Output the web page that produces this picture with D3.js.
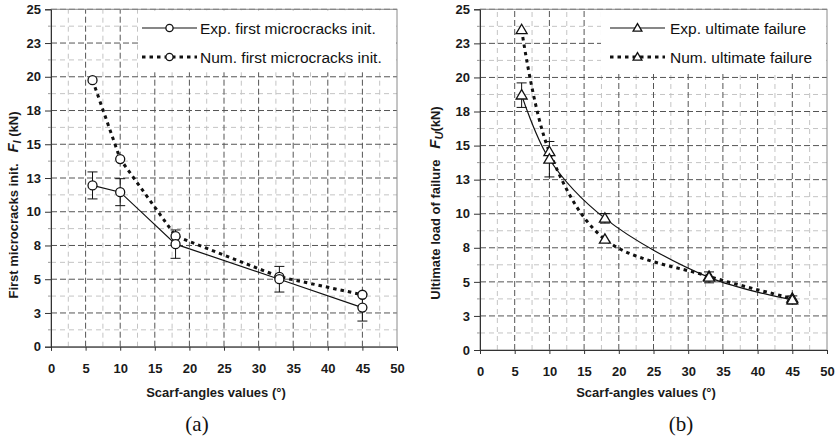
<!DOCTYPE html>
<html><head><meta charset="utf-8">
<script src="https://cdn.jsdelivr.net/npm/d3@7/dist/d3.min.js"></script>
<style>
body{margin:0;background:#fff;}
svg{display:block;font-family:Arial,"Liberation Sans",sans-serif;}
</style></head>
<body><svg id="c" width="836" height="441"></svg>
<script>
// ---- data ----
const angles = [6, 10, 18, 33, 45];
const expFirst = [11.95, 11.45, 7.6, 5.0, 2.9];
const expFirstErr = [1.0, 1.0, 1.05, 0.95, 1.0];
const numFirst = [19.75, 13.9, 8.2, 5.18, 3.85];
const expUlt = [18.7, 14.0, 9.66, 5.33, 3.67];
const expUltErr = [0.9, 1.3, 0.35, 0.4, 0.3];
const numUlt = [23.5, 14.55, 8.12, 5.4, 3.79];
const yTicks = [0, 2.5, 5, 7.5, 10, 12.5, 15, 17.5, 20, 22.5, 25];
const yTickLabels = ["0", "3", "5", "8", "10", "13", "15", "18", "20", "23", "25"];
const xTicks = [0, 5, 10, 15, 20, 25, 30, 35, 40, 45, 50];

const svg = d3.select("#c");

function panel(cfg) {
  const x = d3.scaleLinear().domain([0, 50]).range([cfg.x0, cfg.x1]);
  const y = d3.scaleLinear().domain([0, 25]).range([cfg.y0, cfg.y1]);
  const g = svg.append("g");

  // minor grid
  const minorY = d3.range(1.25, 25, 2.5);
  const minorX = d3.range(2.5, 50, 5);
  g.selectAll(".mgy").data(minorY).join("line")
    .attr("x1", x(0)).attr("x2", x(50)).attr("y1", d => y(d)).attr("y2", d => y(d))
    .attr("stroke", "#c4c4c4").attr("stroke-width", 1).attr("stroke-dasharray", "5,4");
  g.selectAll(".mgx").data(minorX).join("line")
    .attr("y1", y(0)).attr("y2", y(25)).attr("x1", d => x(d)).attr("x2", d => x(d))
    .attr("stroke", "#c4c4c4").attr("stroke-width", 1).attr("stroke-dasharray", "5,4");
  // major grid
  g.selectAll(".Mgy").data(yTicks.slice(1)).join("line")
    .attr("x1", x(0)).attr("x2", x(50)).attr("y1", d => y(d)).attr("y2", d => y(d))
    .attr("stroke", "#555").attr("stroke-width", 1).attr("stroke-dasharray", "6,3");
  g.selectAll(".Mgx").data(xTicks.slice(1, -1)).join("line")
    .attr("y1", y(0)).attr("y2", y(25)).attr("x1", d => x(d)).attr("x2", d => x(d))
    .attr("stroke", "#555").attr("stroke-width", 1).attr("stroke-dasharray", "6,3");
  // frame
  g.append("rect").attr("x", x(0)).attr("y", y(25)).attr("width", x(50) - x(0)).attr("height", y(0) - y(25))
    .attr("fill", "none").attr("stroke", "#8a8a8a").attr("stroke-width", 1);

  // legend background (covers grid)
  g.append("rect").attr("x", cfg.legX).attr("y", y(25) + 1).attr("width", x(50) - cfg.legX - 1).attr("height", 62)
    .attr("fill", "#fff");

  // axes
  const ya = d3.axisLeft(y).tickValues(yTicks).tickFormat((d, i) => yTickLabels[i]).tickSize(6).tickPadding(4);
  const yg = g.append("g").attr("transform", `translate(${x(0)},0)`).call(ya);
  yg.selectAll(".domain").attr("stroke", "#333");
  yg.selectAll(".tick line").attr("stroke", "#333");
  yg.selectAll("text").attr("font-size", 13).attr("font-weight", "bold").attr("fill", "#1a1a1a");
  // minor y ticks
  g.selectAll(".myt").data(minorY).join("line")
    .attr("x1", x(0) - 3).attr("x2", x(0)).attr("y1", d => y(d)).attr("y2", d => y(d))
    .attr("stroke", "#999");

  const xa = d3.axisBottom(x).tickValues(xTicks).tickSize(4).tickPadding(13);
  const xg = g.append("g").attr("transform", `translate(0,${y(0)})`).call(xa);
  xg.selectAll(".domain").attr("stroke", "#333");
  xg.selectAll(".tick line").attr("stroke", "#333");
  xg.selectAll("text").attr("font-size", 13).attr("font-weight", "bold").attr("fill", "#1a1a1a");

  // axis titles
  g.append("text").attr("x", cfg.xTitleX).attr("y", 397).attr("text-anchor", "middle")
    .attr("font-size", 13).attr("font-weight", "bold").attr("fill", "#1a1a1a").text("Scarf-angles values (°)");
  const yt = g.append("text").attr("transform", `translate(${cfg.yTitleX},${cfg.yTitleY}) rotate(-90)`)
    .attr("text-anchor", "middle").attr("font-size", 13).attr("font-weight", "bold").attr("fill", "#1a1a1a")
    .attr("xml:space", "preserve");
  yt.append("tspan").text(cfg.yTitle + "   ");
  yt.append("tspan").attr("font-style", "italic").attr("font-size", 15).text("F");
  yt.append("tspan").attr("font-style", "italic").attr("font-size", 11).attr("dy", 3).text(cfg.sub);
  yt.append("tspan").attr("dy", -3).text(cfg.subGap + "(kN)");

  // panel label
  g.append("text").attr("x", cfg.labX).attr("y", 431).attr("text-anchor", "middle")
    .attr("font-family", "'Liberation Serif','Times New Roman',serif").attr("font-size", 21)
    .attr("fill", "#111").text(cfg.label);

  const expPts = angles.map((a, i) => [a, cfg.exp[i], cfg.err[i]]);
  const numPts = angles.map((a, i) => [a, cfg.num[i]]);
  const line = d3.line().x(d => x(d[0])).y(d => y(d[1])).curve(cfg.curve);

  // error bars
  const eb = g.selectAll(".eb").data(expPts).join("g");
  eb.append("line").attr("x1", d => x(d[0])).attr("x2", d => x(d[0]))
    .attr("y1", d => y(d[1] - d[2])).attr("y2", d => y(d[1] + d[2])).attr("stroke", "#111");
  eb.append("line").attr("x1", d => x(d[0]) - 5).attr("x2", d => x(d[0]) + 5)
    .attr("y1", d => y(d[1] + d[2])).attr("y2", d => y(d[1] + d[2])).attr("stroke", "#111");
  eb.append("line").attr("x1", d => x(d[0]) - 5).attr("x2", d => x(d[0]) + 5)
    .attr("y1", d => y(d[1] - d[2])).attr("y2", d => y(d[1] - d[2])).attr("stroke", "#111");

  g.append("path").attr("d", line(numPts)).attr("fill", "none").attr("stroke", "#111")
    .attr("stroke-width", 3).attr("stroke-dasharray", "3.5,4");
  g.append("path").attr("d", line(expPts)).attr("fill", "none").attr("stroke", "#111").attr("stroke-width", 1.2);

  function marker(sel, cx, cy, k) {
    if (cfg.shape === "circle") {
      sel.append("circle").attr("cx", cx).attr("cy", cy).attr("r", 4.5 * k)
        .attr("fill", "#fff").attr("stroke", "#111").attr("stroke-width", 1.3);
    } else {
      const s = 5.5 * k;
      sel.append("path").attr("d", `M${cx},${cy - s}L${cx + s},${cy + s * 0.7}L${cx - s},${cy + s * 0.7}Z`)
        .attr("fill", "#fff").attr("stroke", "#111").attr("stroke-width", 1.3);
    }
  }
  numPts.forEach(d => marker(g, x(d[0]), y(d[1]), 1));
  expPts.forEach(d => marker(g, x(d[0]), y(d[1]), 1));

  // legend
  const lx = cfg.legLineX;
  const rows = [[cfg.legExp, false, 28], [cfg.legNum, true, 57]];
  rows.forEach(([txt, dotted, ly]) => {
    g.append("line").attr("x1", lx).attr("x2", lx + 55).attr("y1", ly).attr("y2", ly)
      .attr("stroke", "#111").attr("stroke-width", dotted ? 3 : 1.2)
      .attr("stroke-dasharray", dotted ? "3.5,4" : null);
    marker(g, lx + 27.5, ly, 0.8);
    g.append("text").attr("x", lx + cfg.legTextDx).attr("y", ly + 5.5).attr("font-size", 15.5)
      .attr("fill", "#111").text(txt);
  });
}

panel({
  x0: 51, x1: 397, y0: 346.7, y1: 9.3, legX: 138, legLineX: 142, legTextDx: 58,
  exp: expFirst, err: expFirstErr, num: numFirst, shape: "circle", curve: d3.curveLinear,
  yTitle: "First microcracks init.", sub: "I", subGap: " ", yTitleX: 18, yTitleY: 205,
  xTitleX: 216, label: "(a)", labX: 197,
  legExp: "Exp. first microcracks init.", legNum: "Num. first microcracks init."
});
panel({
  x0: 480, x1: 827, y0: 350, y1: 9.3, legX: 601, legLineX: 610, legTextDx: 60,
  exp: expUlt, err: expUltErr, num: numUlt, shape: "triangle", curve: d3.curveCatmullRom,
  yTitle: "Ultimate load of failure", sub: "U", subGap: "", yTitleX: 440, yTitleY: 203,
  xTitleX: 646, label: "(b)", labX: 681,
  legExp: "Exp. ultimate failure", legNum: "Num. ultimate failure"
});
</script></body></html>
